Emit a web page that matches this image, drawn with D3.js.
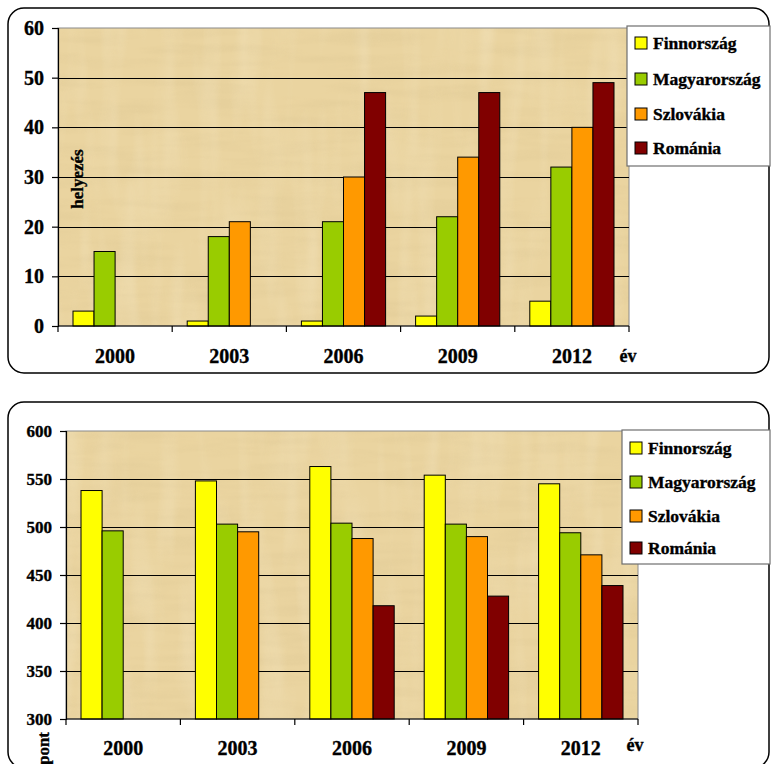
<!DOCTYPE html>
<html>
<head>
<meta charset="utf-8">
<script src="https://cdn.jsdelivr.net/npm/d3@7"></script>
<style>
  body { margin: 0; background: #fff; }
  text { font-family: "Liberation Serif", "Times New Roman", serif; font-weight: bold; fill: #000; stroke: #000; stroke-width: 0.35px; }
</style>
</head>
<body>
<svg id="chart" width="771" height="764"></svg>
<script>
// data
const years = ["2000", "2003", "2006", "2009", "2012"]
const countries = ["Finnország", "Magyarország", "Szlovákia", "Románia"]
const colors = ["#FFFF00", "#99CC00", "#FF9900", "#800000"]

// top chart: ranking (helyezés)
const rankFinn = [3, 1, 1, 2, 5]
const rankHun = [15, 18, 21, 22, 32]
const rankSvk = [null, 21, 30, 34, 40]
const rankRom = [null, null, 47, 47, 49]
const rankTicks = [0, 10, 20, 30, 40, 50, 60]

// bottom chart: points (pont)
const ptsFinn = [538, 548, 563, 554, 545]
const ptsHun = [496, 503, 504, 503, 494]
const ptsSvk = [null, 495, 488, 490, 471]
const ptsRom = [null, null, 418, 428, 439]
const ptsTicks = [300, 350, 400, 450, 500, 550, 600]

const svg = d3.select("#chart")

// papyrus-ish texture
const defs = svg.append("defs")
const filt = defs.append("filter").attr("id", "papyrus").attr("x", 0).attr("y", 0).attr("width", 1).attr("height", 1)
filt.append("feTurbulence").attr("type", "fractalNoise").attr("baseFrequency", "0.012 0.09")
    .attr("numOctaves", 3).attr("seed", 4).attr("result", "noise")
filt.append("feColorMatrix").attr("in", "noise").attr("type", "matrix")
    .attr("values", "0 0 0 0 0.6  0 0 0 0 0.46  0 0 0 0 0.22  1.1 0 0 0 -0.45")
const filt2 = defs.append("filter").attr("id", "papyrusLight").attr("x", 0).attr("y", 0).attr("width", 1).attr("height", 1)
filt2.append("feTurbulence").attr("type", "fractalNoise").attr("baseFrequency", "0.05 0.008")
    .attr("numOctaves", 2).attr("seed", 9).attr("result", "noise")
filt2.append("feColorMatrix").attr("in", "noise").attr("type", "matrix")
    .attr("values", "0 0 0 0 0.98  0 0 0 0 0.93  0 0 0 0 0.78  1.2 0 0 0 -0.5")

function drawPanel(cfg){
    const g = svg.append("g")

    // rounded frame
    g.append("rect")
        .attr("x", cfg.box[0]).attr("y", cfg.box[1])
        .attr("width", cfg.box[2]).attr("height", cfg.box[3])
        .attr("rx", 16).attr("ry", 16)
        .attr("fill", "#fff").attr("stroke", "#000").attr("stroke-width", 1.5)

    const [left, top, right, bottom] = cfg.plot

    const x = d3.scaleBand().domain(years).range([left, right])
    const gap = 15
    const xs = d3.scaleBand().domain(countries).range([gap, x.bandwidth() - gap])
    const y = d3.scaleLinear().domain(cfg.domain).range([bottom, top])

    // plot background
    const bg = () => g.append("rect").attr("x", left).attr("y", top).attr("width", right - left).attr("height", bottom - top)
    bg().attr("fill", "#EAD4A0")
    bg().attr("filter", "url(#papyrus)").attr("opacity", 0.3)
    bg().attr("filter", "url(#papyrusLight)").attr("opacity", 0.35)
    bg().attr("fill", "none").attr("stroke", "#8a8a8a").attr("stroke-width", 1)

    // gridlines
    g.selectAll(".grid").data(cfg.ticks.slice(1, -1)).enter().append("line")
        .attr("x1", left).attr("x2", right)
        .attr("y1", d => Math.round(y(d)) + 0.5).attr("y2", d => Math.round(y(d)) + 0.5)
        .attr("stroke", "#000").attr("stroke-width", 1.2)

    // bars
    const series = cfg.series.map((vals, i) => vals.map((v, j) => ({country: countries[i], year: years[j], value: v, color: colors[i]})))
    g.selectAll(".bar").data(series.flat().filter(d => d.value != null)).enter().append("rect")
        .attr("x", d => x(d.year) + xs(d.country))
        .attr("width", xs.bandwidth())
        .attr("y", d => y(d.value))
        .attr("height", d => bottom - y(d.value))
        .attr("fill", d => d.color)
        .attr("stroke", "#000").attr("stroke-width", 1)

    // y axis
    const yAxis = d3.axisLeft(y).tickValues(cfg.ticks).tickSize(6).tickPadding(8).tickFormat(d3.format("d"))
    const ya = g.append("g").attr("transform", `translate(${left},0)`).call(yAxis)
    ya.select(".domain").attr("stroke", "#000").attr("stroke-width", 1.2)
    ya.selectAll(".tick line").attr("stroke", "#000").attr("stroke-width", 1.2)
    ya.selectAll(".tick text").style("font-family", "Liberation Serif, serif").style("font-weight", "bold")
        .style("font-size", cfg.tickSize + "px").attr("fill", "#000")

    // x axis line and category ticks
    g.append("line").attr("x1", left).attr("x2", right).attr("y1", bottom).attr("y2", bottom)
        .attr("stroke", "#000").attr("stroke-width", 1.2)
    const bounds = years.map(d => x(d)).concat([right])
    g.selectAll(".xtick").data(bounds).enter().append("line")
        .attr("x1", d => d).attr("x2", d => d).attr("y1", bottom).attr("y2", bottom + 6)
        .attr("stroke", "#000").attr("stroke-width", 1.2)
    g.selectAll(".xlab").data(years).enter().append("text")
        .attr("x", d => x(d) + x.bandwidth() / 2).attr("y", cfg.xLabelY)
        .attr("text-anchor", "middle").style("font-size", "20px").text(d => d)

    // axis titles
    g.append("text").attr("x", cfg.evPos[0]).attr("y", cfg.evPos[1])
        .attr("text-anchor", "middle").style("font-size", "18px").text("év")
    g.append("text")
        .attr("transform", `translate(${cfg.yTitle[0]},${cfg.yTitle[1]}) rotate(-90)`)
        .attr("text-anchor", cfg.yTitle[2]).style("font-size", "17px").text(cfg.yTitleText)

    // legend
    const [lx, ly, lw, lh] = cfg.legend
    g.append("rect").attr("x", lx).attr("y", ly).attr("width", lw).attr("height", lh)
        .attr("fill", "#fff").attr("stroke", "#6e6e6e").attr("stroke-width", 1.2)
    const item = g.selectAll(".leg").data(countries).enter().append("g")
        .attr("transform", (d, i) => `translate(${lx + 8},${cfg.legendRows[i]})`)
    item.append("rect").attr("x", 0).attr("y", -6).attr("width", 12).attr("height", 12)
        .attr("fill", (d, i) => colors[i]).attr("stroke", "#000").attr("stroke-width", 1)
    item.append("text").attr("x", 18).attr("y", 6).style("font-size", "17.5px").text(d => d)
}

drawPanel({
    box: [8, 8, 761, 365],
    plot: [58, 28, 629, 326],
    domain: [0, 60],
    ticks: rankTicks,
    tickSize: 20,
    series: [rankFinn, rankHun, rankSvk, rankRom],
    xLabelY: 363,
    evPos: [628, 362],
    yTitle: [83, 179, "middle"],
    yTitleText: "helyezés",
    legend: [627, 26, 143, 140],
    legendRows: [43, 79, 114, 148]
})

drawPanel({
    box: [8, 402, 761, 366],
    plot: [66, 431, 638, 719],
    domain: [300, 600],
    ticks: ptsTicks,
    tickSize: 17,
    series: [ptsFinn, ptsHun, ptsSvk, ptsRom],
    xLabelY: 755,
    evPos: [635, 751],
    yTitle: [49, 732, "end"],
    yTitleText: "pont",
    legend: [622, 430, 148, 134],
    legendRows: [448, 482, 516, 548]
})
</script>
</body>
</html>
